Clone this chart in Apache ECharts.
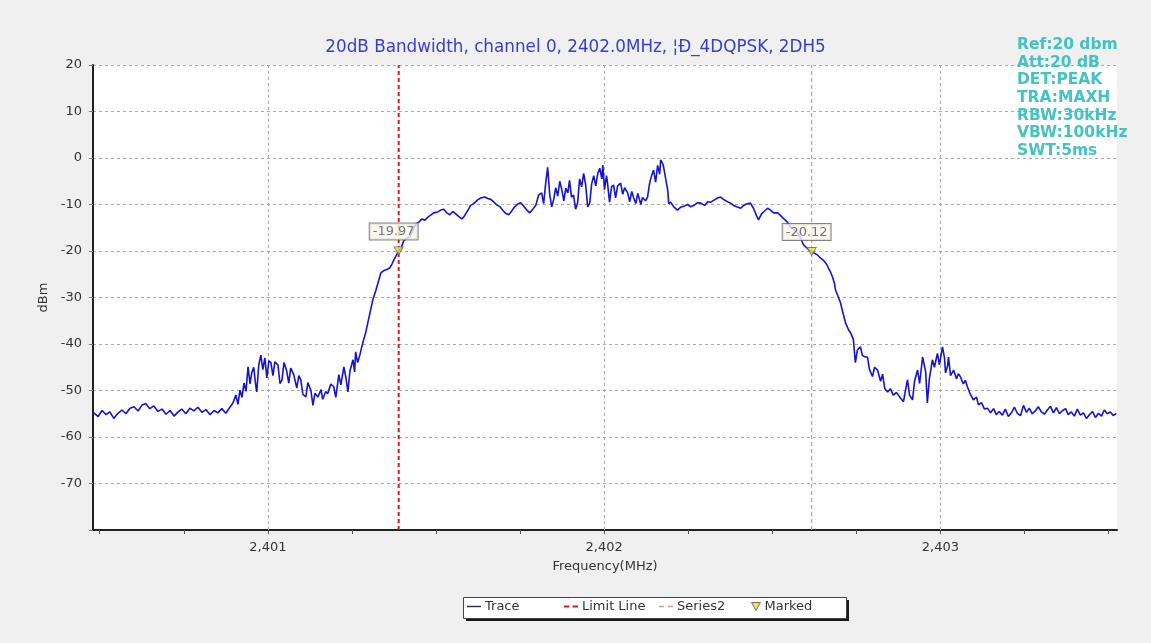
<!DOCTYPE html>
<html><head><meta charset="utf-8">
<script src="https://cdn.jsdelivr.net/npm/echarts@6/dist/echarts.min.js"></script>
<style>html,body{margin:0;padding:0;background:#f0f0f0}#c{width:1151px;height:643px}</style>
</head><body><div id="c"></div>
<script>
const titleText = '20dB Bandwidth, channel 0, 2402.0MHz, ¦Ð_4DQPSK, 2DH5';
const infoLines = ['Ref:20 dbm','Att:20 dB','DET:PEAK','TRA:MAXH','RBW:30kHz','VBW:100kHz','SWT:5ms'];
const xLabelValues = [2401, 2402, 2403];
const xTickValues = [2400.5, 2400.75, 2401, 2401.25, 2401.5, 2401.75, 2402, 2402.25, 2402.5, 2402.75, 2403, 2403.25, 2403.5];
const legendNames = ['Trace', 'Limit Line', 'Series2', 'Marked'];
const limitFreq = 2401.389;
const series2Freq = 2402.617;
const markerFreq = [2401.389, 2402.617];
const markerDbm = [-19.97, -20.12];
const traceFreq = [
2400.483,2400.495,2400.507,2400.519,2400.530,2400.542,2400.554,2400.566,2400.578,2400.590,
2400.602,2400.614,2400.626,2400.637,2400.649,2400.661,2400.673,2400.685,2400.697,2400.709,
2400.721,2400.733,2400.744,2400.756,2400.768,2400.780,2400.792,2400.804,2400.816,2400.828,
2400.840,2400.851,2400.863,2400.875,2400.887,2400.896,2400.905,2400.911,2400.917,2400.923,
2400.929,2400.935,2400.941,2400.947,2400.952,2400.958,2400.964,2400.967,2400.973,2400.979,
2400.985,2400.991,2400.997,2401.003,2401.009,2401.015,2401.021,2401.030,2401.036,2401.042,
2401.048,2401.056,2401.062,2401.068,2401.077,2401.086,2401.092,2401.098,2401.104,2401.113,
2401.119,2401.128,2401.134,2401.140,2401.149,2401.158,2401.163,2401.172,2401.178,2401.187,
2401.196,2401.202,2401.211,2401.217,2401.226,2401.232,2401.238,2401.244,2401.253,2401.258,
2401.261,2401.267,2401.273,2401.282,2401.291,2401.297,2401.306,2401.312,2401.321,2401.327,
2401.336,2401.345,2401.354,2401.363,2401.369,2401.374,2401.383,2401.389,2401.395,2401.404,
2401.413,2401.422,2401.431,2401.440,2401.449,2401.458,2401.467,2401.476,2401.484,2401.493,
2401.505,2401.514,2401.523,2401.532,2401.541,2401.550,2401.559,2401.568,2401.577,2401.585,
2401.594,2401.603,2401.612,2401.624,2401.633,2401.645,2401.654,2401.663,2401.672,2401.681,
2401.689,2401.698,2401.707,2401.716,2401.725,2401.734,2401.743,2401.752,2401.761,2401.770,
2401.779,2401.788,2401.797,2401.805,2401.814,2401.820,2401.826,2401.832,2401.838,2401.844,
2401.850,2401.856,2401.862,2401.868,2401.874,2401.880,2401.886,2401.892,2401.897,2401.903,
2401.909,2401.915,2401.921,2401.927,2401.933,2401.939,2401.945,2401.951,2401.957,2401.963,
2401.969,2401.975,2401.981,2401.987,2401.993,2401.996,2402.001,2402.007,2402.010,2402.016,
2402.022,2402.028,2402.034,2402.040,2402.049,2402.055,2402.061,2402.070,2402.076,2402.082,
2402.088,2402.094,2402.100,2402.109,2402.114,2402.123,2402.129,2402.135,2402.141,2402.147,
2402.153,2402.159,2402.165,2402.168,2402.174,2402.177,2402.183,2402.189,2402.192,2402.198,
2402.207,2402.218,2402.227,2402.239,2402.248,2402.257,2402.269,2402.278,2402.287,2402.299,
2402.308,2402.317,2402.328,2402.337,2402.346,2402.355,2402.364,2402.376,2402.385,2402.394,
2402.406,2402.415,2402.423,2402.435,2402.444,2402.453,2402.459,2402.468,2402.477,2402.486,
2402.495,2402.504,2402.516,2402.525,2402.533,2402.545,2402.554,2402.563,2402.575,2402.584,
2402.593,2402.602,2402.608,2402.617,2402.626,2402.635,2402.643,2402.652,2402.661,2402.667,
2402.673,2402.679,2402.685,2402.688,2402.697,2402.703,2402.709,2402.718,2402.727,2402.733,
2402.741,2402.747,2402.753,2402.762,2402.768,2402.777,2402.783,2402.789,2402.798,2402.804,
2402.813,2402.822,2402.828,2402.834,2402.843,2402.851,2402.860,2402.869,2402.881,2402.890,
2402.896,2402.902,2402.908,2402.917,2402.923,2402.932,2402.938,2402.947,2402.956,2402.961,
2402.967,2402.976,2402.982,2402.991,2402.997,2403.006,2403.012,2403.015,2403.021,2403.024,
2403.030,2403.039,2403.048,2403.053,2403.059,2403.068,2403.074,2403.080,2403.089,2403.098,
2403.107,2403.113,2403.122,2403.131,2403.140,2403.149,2403.158,2403.166,2403.175,2403.184,
2403.193,2403.202,2403.211,2403.220,2403.229,2403.238,2403.247,2403.256,2403.264,2403.273,
2403.282,2403.291,2403.300,2403.309,2403.318,2403.327,2403.336,2403.345,2403.354,2403.363,
2403.372,2403.380,2403.389,2403.398,2403.407,2403.416,2403.425,2403.434,2403.443,2403.452,
2403.461,2403.470,2403.479,2403.487,2403.496,2403.505,2403.514,2403.523
];
const traceDbm = [
-54.8,-55.6,-54.3,-55.2,-54.6,-56.0,-54.9,-54.2,-55.0,-53.8,
-53.5,-54.4,-53.1,-52.8,-53.9,-53.3,-54.5,-54.0,-55.1,-54.3,
-55.5,-54.6,-54.0,-55.0,-53.8,-54.4,-53.6,-54.7,-54.1,-55.2,
-54.3,-54.8,-53.9,-54.9,-53.6,-52.7,-51.0,-53.0,-49.9,-51.5,
-48.4,-50.2,-44.9,-48.6,-46.2,-45.0,-49.0,-50.3,-44.5,-42.4,
-45.5,-43.0,-47.3,-43.6,-44.0,-46.8,-43.8,-44.5,-48.5,-47.7,
-44.0,-45.8,-48.4,-45.2,-46.6,-49.5,-46.8,-47.7,-50.8,-51.4,
-48.3,-50.0,-53.2,-50.6,-51.4,-49.8,-51.9,-50.2,-50.7,-48.6,
-49.2,-51.5,-46.6,-48.8,-44.9,-47.2,-50.3,-45.8,-43.4,-46.0,
-41.7,-44.0,-42.5,-39.8,-37.5,-35.5,-32.5,-30.5,-28.5,-27.0,
-24.7,-24.2,-24.0,-23.6,-22.8,-22.0,-20.8,-19.97,-19.6,-17.8,
-17.3,-16.9,-15.5,-14.2,-13.8,-13.1,-13.4,-12.7,-12.3,-11.8,
-11.6,-11.2,-11.0,-11.8,-12.2,-11.5,-12.0,-12.6,-13.1,-12.4,
-11.3,-10.2,-9.8,-9.0,-8.6,-8.4,-8.7,-8.9,-9.5,-10.1,
-10.4,-11.2,-11.9,-12.2,-11.4,-10.5,-9.9,-9.6,-10.4,-11.2,
-11.8,-11.0,-10.1,-8.0,-7.5,-9.8,-5.5,-2.0,-7.8,-10.5,
-8.9,-6.4,-8.2,-5.0,-6.8,-9.2,-6.5,-7.5,-4.8,-8.4,
-8.0,-11.0,-9.7,-4.5,-6.2,-3.3,-5.8,-10.5,-9.7,-5.5,
-3.8,-6.0,-3.3,-2.2,-4.5,-1.5,-6.8,-3.8,-5.4,-9.5,
-6.2,-5.8,-8.6,-6.0,-5.4,-7.8,-6.4,-7.5,-9.4,-7.2,
-8.6,-9.8,-7.6,-10.0,-8.5,-9.2,-8.4,-5.5,-3.8,-2.6,
-5.2,-1.6,-3.5,-0.4,-1.2,-2.0,-4.5,-6.9,-9.8,-9.5,
-10.5,-11.2,-10.6,-10.3,-10.0,-10.5,-10.1,-9.6,-9.7,-10.2,
-9.4,-9.5,-9.0,-8.6,-8.4,-8.9,-9.3,-9.7,-10.2,-10.5,
-10.8,-10.2,-9.9,-9.7,-10.8,-12.4,-13.3,-12.0,-11.4,-10.8,
-11.2,-11.8,-11.8,-12.4,-13.0,-13.8,-14.8,-15.3,-16.0,-17.2,
-18.7,-19.3,-19.7,-20.12,-20.5,-20.9,-21.5,-22.0,-22.8,-23.7,
-24.5,-25.6,-27.0,-28.4,-30.0,-31.2,-33.0,-35.5,-37.0,-37.6,
-39.0,-44.0,-41.3,-40.6,-42.5,-42.8,-42.8,-45.5,-47.0,-45.0,
-45.6,-48.0,-46.5,-49.5,-50.3,-49.6,-51.0,-50.4,-51.6,-52.4,
-50.0,-47.7,-51.0,-52.0,-48.0,-45.6,-48.5,-42.8,-46.0,-52.7,
-47.5,-43.4,-45.0,-42.0,-44.5,-40.6,-43.0,-46.2,-44.8,-42.8,
-46.8,-45.6,-47.5,-46.4,-47.0,-48.6,-47.8,-49.2,-50.8,-52.0,
-51.4,-53.1,-52.6,-54.0,-53.8,-54.8,-53.9,-55.2,-54.5,-55.3,
-54.0,-55.6,-54.8,-53.6,-54.9,-55.4,-53.2,-54.7,-53.8,-55.0,
-54.4,-53.5,-54.6,-55.1,-54.2,-53.4,-54.8,-53.7,-55.0,-54.3,
-53.9,-55.2,-54.6,-55.5,-54.0,-55.3,-54.8,-56.0,-55.2,-54.5,
-55.8,-54.9,-55.5,-54.2,-55.0,-54.6,-55.4,-54.9
];

const FONT = "'DejaVu Sans', 'Liberation Sans', sans-serif";
const chart = echarts.init(document.getElementById('c'), null, {renderer: 'canvas'});
const traceData = traceFreq.map((f, i) => [f, traceDbm[i]]);
const markerData = markerFreq.map((f, i) => [f, markerDbm[i]]);

const TRACE_COLOR = '#1414cc';
const LIMIT_COLOR = '#e01818';
const S2_COLOR = '#cf9a9a';
const legendIcons = [
  'path://M0,0 H14 V1.4 H0 Z',
  'path://M0,0 H5 V2 H0 Z M8,0 H13 V2 H8 Z',
  'path://M0,0 H5 V1.4 H0 Z M9,0 H14 V1.4 H9 Z',
  'path://M0,0 L10,0 L5,9 Z'
];
const legendLefts = [467, 564, 659, 751];
const legendColors = ['#2a2a60', LIMIT_COLOR, S2_COLOR, '#e8e030'];
const legends = legendNames.map((n, i) => ({
  left: legendLefts[i], top: 600, padding: 0, itemGap: 0,
  itemWidth: i === 3 ? 9 : 14, itemHeight: 8,
  selectedMode: false, z: 20,
  textStyle: {color: '#333', fontSize: 13, fontFamily: FONT, padding: [0, 0, 0, -1]},
  itemStyle: i === 3 ? {borderColor: '#555', borderWidth: 1} : {},
  data: [{name: n, icon: legendIcons[i], itemStyle: {color: legendColors[i]}}]
}));

chart.setOption({
  backgroundColor: '#f0f0f0',
  animation: false,
  title: {
    text: titleText, left: 'center', top: 34,
    textStyle: {color: '#3b3bcc', fontSize: 16.8, fontWeight: 'normal', fontFamily: FONT}
  },
  legend: legends,
  grid: {left: 93, right: 34, top: 65, bottom: 113, show: true, backgroundColor: '#ffffff', borderWidth: 0},
  xAxis: {
    type: 'value', min: 2400.48, max: 2403.525,
    name: 'Frequency(MHz)', nameLocation: 'middle', nameGap: 30,
    nameTextStyle: {color: '#333', fontSize: 13, fontFamily: FONT},
    axisLine: {show: true, onZero: false, lineStyle: {color: '#222', width: 2}},
    axisTick: {show: true, customValues: xTickValues, length: 4, lineStyle: {color: '#555'}},
    axisLabel: {customValues: xLabelValues, color: '#333', fontSize: 13, fontFamily: FONT, margin: 11,
      formatter: v => { const s = String(Math.round(v)); return s.slice(0, s.length - 3) + ',' + s.slice(-3); }},
    splitLine: {show: false}
  },
  yAxis: {
    type: 'value', min: -80, max: 20, interval: 10,
    name: 'dBm', nameLocation: 'middle', nameGap: 22,
    nameTextStyle: {color: '#333', fontSize: 13, fontFamily: FONT},
    axisLine: {show: true, lineStyle: {color: '#222', width: 2}},
    axisTick: {show: true, length: 4, lineStyle: {color: '#777'}},
    axisLabel: {color: '#333', fontSize: 13, fontFamily: FONT, margin: 11,
      formatter: v => v === -80 ? '' : String(v)},
    splitLine: {show: true, lineStyle: {color: '#aaaaaa', type: [3, 3], width: 1}}
  },
  graphic: [
    {type: 'rect', left: 466, top: 600, z: 10, silent: true,
      shape: {width: 383, height: 21}, style: {fill: '#1a1a1a'}},
    {type: 'rect', left: 463, top: 597, z: 11, silent: true,
      shape: {width: 383, height: 21}, style: {fill: '#ffffff', stroke: '#444', lineWidth: 1}},
    {type: 'text', left: 1017, top: 36, z: 100,
      style: {text: infoLines.join('\n'), fill: '#45c2c2', font: 'bold 15.5px ' + FONT, lineHeight: 17.7}}
  ],
  series: [
    {
      name: 'Trace', type: 'line', data: traceData, showSymbol: false, symbol: 'none',
      lineStyle: {color: TRACE_COLOR, width: 1.6}, itemStyle: {color: TRACE_COLOR}, z: 5,
      markLine: {
        silent: true, symbol: 'none', label: {show: false},
        lineStyle: {color: '#aaaaaa', type: [3, 3], width: 1},
        data: xLabelValues.map(v => ({xAxis: v}))
      }
    },
    {
      name: 'Limit Line', type: 'line', data: [[limitFreq, -80], [limitFreq, 20]],
      showSymbol: false, symbol: 'none',
      lineStyle: {color: LIMIT_COLOR, type: [4, 3], width: 2}, itemStyle: {color: LIMIT_COLOR}, z: 4
    },
    {
      name: 'Series2', type: 'line', data: [[series2Freq, -80], [series2Freq, 20]],
      showSymbol: false, symbol: 'none',
      lineStyle: {color: S2_COLOR, type: [4, 3], width: 1.2}, itemStyle: {color: S2_COLOR}, z: 4
    },
    {
      name: 'Marked', type: 'scatter', data: markerData, z: 10,
      symbol: 'triangle', symbolRotate: 180, symbolSize: [9, 8],
      itemStyle: {color: '#ece63a', borderColor: '#666', borderWidth: 1},
      label: {
        show: true, position: 'top', offset: [-5, -1], distance: 6,
        formatter: p => p.value[1].toFixed(2),
        color: '#555', fontSize: 13, fontFamily: FONT,
        backgroundColor: '#f6f6ea', borderColor: '#666', borderWidth: 1, padding: [2, 3, 1, 3]
      }
    }
  ]
});
</script></body></html>
